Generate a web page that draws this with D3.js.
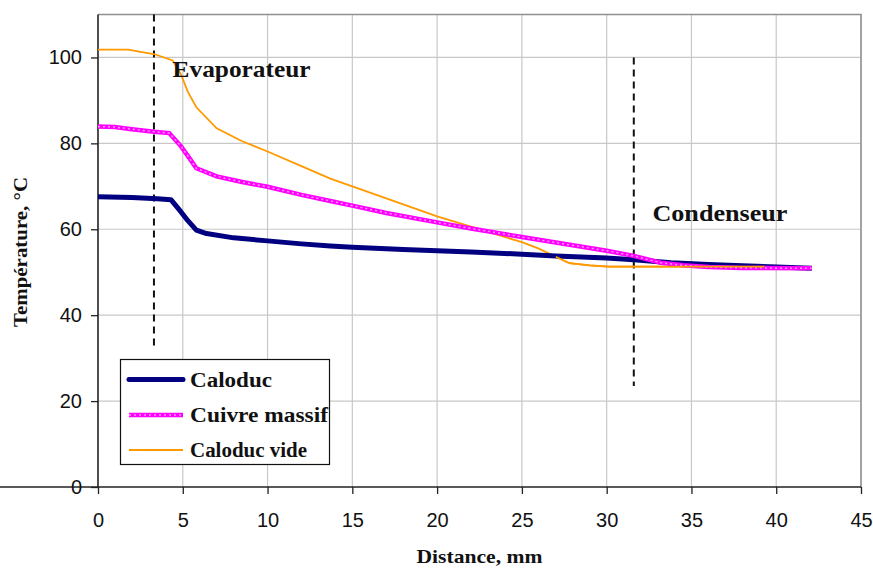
<!DOCTYPE html>
<html><head><meta charset="utf-8">
<script src="https://cdn.jsdelivr.net/npm/d3@7"></script>
<style>body{margin:0;background:#fff}svg{display:block}</style>
</head><body>
<svg id="c" width="873" height="568"></svg>
<script>
const xTicks=[0,5,10,15,20,25,30,35,40,45];
const yTicks=[0,20,40,60,80,100];
const seriesNames=["Caloduc","Cuivre massif","Caloduc vide"];
const calX=[0,2,3.5,4.3,4.8,5.3,5.8,6.4,8,10,12,13.7,15,18,20,22,25,27,30,31.6,33.8,36,38,40,42.1];
const calY=[67.6,67.4,67.1,66.9,64.5,62,59.8,59.0,58.0,57.3,56.6,56.1,55.8,55.3,55.0,54.7,54.2,53.8,53.3,52.9,52.2,51.8,51.5,51.2,50.9];
const cuiX=[0,1,2,3.3,4.2,4.9,5.4,5.8,7,8.5,10,12,13.7,15,17,20,22,25,27,30,31.6,33.2,34.5,36,38,42.1];
const cuiY=[83.9,83.8,83.3,82.7,82.4,79.3,76.5,74.2,72.3,71,69.9,68,66.6,65.5,63.8,61.6,60.2,58.2,56.9,55.0,53.8,52.2,51.6,51.2,51.0,50.9];
const vidX=[0,1.8,2.5,3.3,4.4,4.9,5.3,5.8,7,8.5,10,12,13.7,15,17.5,20,22,25,26,27,27.8,29,30.1,35,39.3];
const vidY=[101.8,101.8,101.3,100.8,99.3,96,92,88.4,83.5,80.5,78.1,74.7,71.8,70,66.5,63.0,60.6,57.0,55.5,53.6,52.1,51.6,51.3,51.3,51.3];
const markerX=[3.3,31.6];
const markerTop=[110,100];
const markerBottom=[32.5,23.5];
const zoneLabels=["Evaporateur","Condenseur"];
const zoneLabelX=[4.4,32.7];
const zoneLabelY=[95.5,62];

const svg=d3.select("#c");
const L=98,R=861,T=14.5,B=487;
const x=d3.scaleLinear().domain([0,45]).range([L,R]);
const y=d3.scaleLinear().domain([0,110]).range([B,T]);
const serif="'Liberation Serif','DejaVu Serif',serif";
const sans="'Liberation Sans',Arial,sans-serif";

// grid
svg.append("g").selectAll("line").data(xTicks.slice(1)).join("line")
  .attr("x1",d=>x(d)).attr("x2",d=>x(d)).attr("y1",T).attr("y2",B)
  .attr("stroke","#c8c8c8").attr("stroke-width",1.2);
svg.append("g").selectAll("line").data(yTicks.slice(1).concat([110])).join("line")
  .attr("x1",L).attr("x2",R).attr("y1",d=>y(d)).attr("y2",d=>y(d))
  .attr("stroke","#c8c8c8").attr("stroke-width",1.2);
svg.append("path").attr("d",`M${L},${T}H${R}V${B}`).attr("fill","none").attr("stroke","#909090").attr("stroke-width",1.5);

// axes
const xa=svg.append("g").attr("transform",`translate(0,${B})`)
  .call(d3.axisBottom(x).tickValues(xTicks).tickSize(7).tickPadding(19).tickSizeOuter(0));
const ya=svg.append("g").attr("transform",`translate(${L},0)`)
  .call(d3.axisLeft(y).tickValues(yTicks).tickSize(7).tickPadding(9).tickSizeOuter(0));
[xa,ya].forEach(a=>{
  a.select(".domain").attr("stroke","#222").attr("stroke-width",1.6);
  a.selectAll(".tick line").attr("stroke","#222").attr("stroke-width",1.3);
  a.selectAll("text").attr("font-family",sans).attr("font-size",20).attr("fill","#111");
});
ya.select(".domain").attr("d",`M0,${T}V${B}`);
xa.select(".domain").attr("d",`M0,0H${R}`);

// dashed markers
svg.append("g").selectAll("line").data(markerX).join("line")
  .attr("x1",d=>x(d)).attr("x2",d=>x(d))
  .attr("y1",(d,i)=>y(markerTop[i])).attr("y2",(d,i)=>y(markerBottom[i]))
  .attr("stroke","#111").attr("stroke-width",2).attr("stroke-dasharray","7,5");

// lines
const line=d3.line().x(d=>x(d[0])).y(d=>y(d[1]));
const zip=(a,b)=>a.map((v,i)=>[v,b[i]]);
svg.append("path").datum(zip(vidX,vidY)).attr("d",line).attr("fill","none").attr("stroke","#FF9900").attr("stroke-width",1.8);
svg.append("path").datum(zip(calX,calY)).attr("d",line).attr("fill","none").attr("stroke","#000080").attr("stroke-width",5).attr("stroke-linejoin","round");
svg.append("path").datum(zip(cuiX,cuiY)).attr("d",line).attr("fill","none").attr("stroke","#FF00FF").attr("stroke-width",4.5);
svg.append("path").datum(zip(cuiX,cuiY)).attr("d",line).attr("fill","none").attr("stroke","#FF99FF").attr("stroke-width",1.5).attr("stroke-dasharray","2,3");
svg.append("path").datum(zip(vidX,vidY).filter(d=>d[0]>=27)).attr("d",line).attr("fill","none").attr("stroke","#FF9900").attr("stroke-width",1.8);

// zone labels
const zoneW=[138,135];
svg.append("g").selectAll("text").data(zoneLabels).join("text")
  .attr("x",(d,i)=>x(zoneLabelX[i])).attr("y",(d,i)=>y(zoneLabelY[i]))
  .attr("font-family",serif).attr("font-weight","bold").attr("font-size",24).attr("fill","#111")
  .attr("textLength",(d,i)=>zoneW[i]).attr("lengthAdjust","spacingAndGlyphs")
  .text(d=>d);

// axis titles
svg.append("text").attr("x",(L+R)/2).attr("y",563).attr("text-anchor","middle")
  .attr("font-family",serif).attr("font-weight","bold").attr("font-size",19).attr("fill","#111")
  .attr("textLength",126).attr("lengthAdjust","spacingAndGlyphs")
  .text("Distance, mm");
svg.append("text").attr("transform","translate(27,252) rotate(-90)").attr("text-anchor","middle")
  .attr("font-family",serif).attr("font-weight","bold").attr("font-size",19).attr("fill","#111")
  .attr("textLength",150).attr("lengthAdjust","spacingAndGlyphs")
  .text("Température, °C");

// legend
const lg=svg.append("g");
lg.append("rect").attr("x",120.5).attr("y",359.5).attr("width",209).attr("height",105)
  .attr("fill","#fff").attr("stroke","#111").attr("stroke-width",1.2);
const ly=[379.5,415,450];
const lw=[82,138,117];
const lstyles=[{c:"#000080",w:5},{c:"#FF00FF",w:4.5},{c:"#FF9900",w:1.8}];
seriesNames.forEach((n,i)=>{
  lg.append("line").attr("x1",129).attr("x2",183).attr("y1",ly[i]).attr("y2",ly[i])
    .attr("stroke",lstyles[i].c).attr("stroke-width",lstyles[i].w).attr("stroke-linecap",i==0?"round":"butt");
  if(i==1) lg.append("line").attr("x1",129).attr("x2",183).attr("y1",ly[i]).attr("y2",ly[i])
    .attr("stroke","#FF99FF").attr("stroke-width",1.5).attr("stroke-dasharray","2,3");
  lg.append("text").attr("x",190).attr("y",ly[i]+7).attr("font-family",serif).attr("font-weight","bold")
    .attr("font-size",20).attr("fill","#111")
    .attr("textLength",lw[i]).attr("lengthAdjust","spacingAndGlyphs").text(n);
});
</script>
</body></html>
